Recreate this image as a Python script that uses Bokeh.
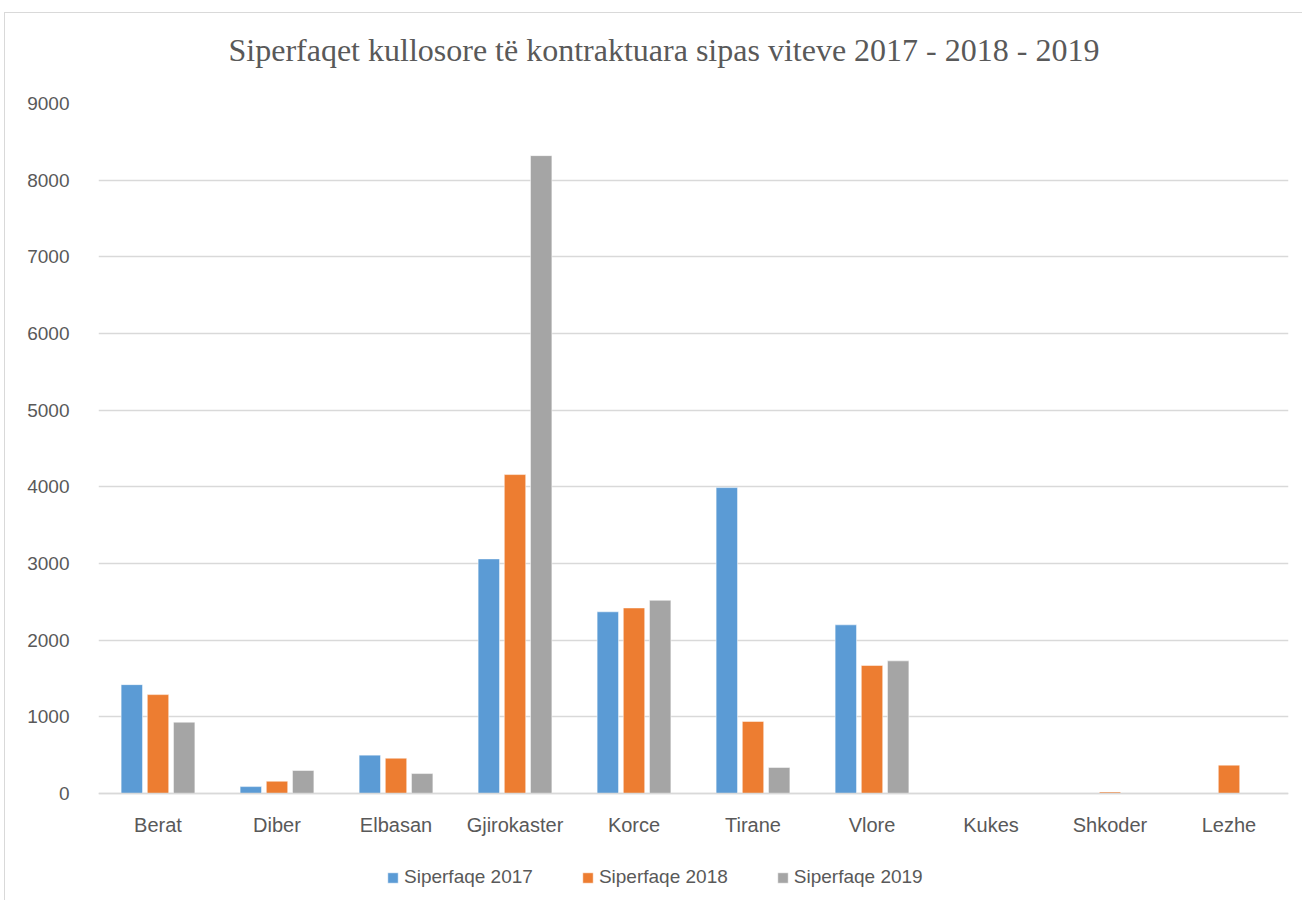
from bokeh.plotting import figure
from bokeh.models import ColumnDataSource, FactorRange, Range1d, FixedTicker, Legend, LegendItem, Title
from bokeh.transform import dodge
from bokeh.embed import file_html
from bokeh.resources import INLINE

categories = ["Berat", "Diber", "Elbasan", "Gjirokaster", "Korce", "Tirane", "Vlore", "Kukes", "Shkoder", "Lezhe"]
s2017 = [1420, 90, 500, 3060, 2370, 3990, 2200, 0, 0, 0]
s2018 = [1290, 160, 460, 4160, 2420, 940, 1670, 0, 20, 370]
s2019 = [930, 300, 260, 8320, 2520, 340, 1730, 0, 0, 0]
series_names = ["Siperfaqe 2017", "Siperfaqe 2018", "Siperfaqe 2019"]
colors = ["#5B9BD5", "#ED7D31", "#A5A5A5"]
yticks = [0, 1000, 2000, 3000, 4000, 5000, 6000, 7000, 8000, 9000]
title_text = "Siperfaqet kullosore të kontraktuara sipas viteve 2017 - 2018 - 2019"

# layout: 690 px for 0..9000, frame extended below zero to hold labels and legend
FRAME_H = 793
Y_TOP = 9000
Y_BOTTOM = Y_TOP - Y_TOP * FRAME_H / 690.0

src = ColumnDataSource(dict(cat=categories, s2017=s2017, s2018=s2018, s2019=s2019))

p = figure(x_range=FactorRange(*categories, range_padding=0), y_range=Range1d(Y_BOTTOM, Y_TOP),
           frame_width=1190, frame_height=FRAME_H, output_backend="svg", toolbar_location=None,
           min_border_left=93, min_border_right=14, min_border_top=90, min_border_bottom=4,
           styles={"margin-left": "4px", "margin-top": "12px",
                   "border-left": "1px solid #d9d9d9", "border-top": "1px solid #d9d9d9"})

p.title.text = title_text
p.title.text_font = "Liberation Serif"
p.title.text_font_size = "32px"
p.title.text_font_style = "normal"
p.title.text_color = "#595959"
p.title.align = "left"
p.title.offset = 130
p.title.standoff = 33

spacer = Title(text=" ", text_font_size="2px", standoff=15)
p.add_layout(spacer, "above")

p.outline_line_color = None
p.xgrid.grid_line_color = None
p.ygrid.grid_line_color = "#d9d9d9"
p.ygrid.grid_line_width = 1.3
p.yaxis.ticker = FixedTicker(ticks=yticks)
p.yaxis.axis_line_color = None
p.yaxis.major_tick_line_color = None
p.yaxis.minor_tick_line_color = None
p.yaxis.major_label_standoff = 23
p.yaxis.major_label_text_font = "Liberation Sans"
p.yaxis.major_label_text_font_size = "19px"
p.yaxis.major_label_text_color = "#595959"

p.xaxis.fixed_location = 0
p.xaxis.axis_line_color = "#d9d9d9"
p.xaxis.axis_line_width = 1.5
p.xaxis.major_tick_line_color = None
p.xaxis.minor_tick_line_color = None
p.xaxis.major_label_standoff = 14
p.xaxis.major_label_text_font = "Liberation Sans"
p.xaxis.major_label_text_font_size = "20px"
p.xaxis.major_label_text_color = "#595959"

items = []
for key, off, col, name in zip(["s2017", "s2018", "s2019"], [-0.22, 0.0, 0.22], colors, series_names):
    r = p.vbar(x=dodge("cat", off, range=p.x_range), top=key, width=0.18, source=src,
               fill_color=col, line_color="white", line_width=0.5)
    items.append(LegendItem(label=name, renderers=[r]))

legend = Legend(items=items, orientation="horizontal", location=(288, 8),
                border_line_color=None, background_fill_alpha=0,
                label_text_font="Liberation Sans", label_text_font_size="19px",
                label_text_color="#595959", glyph_width=13, glyph_height=13,
                spacing=48, label_standoff=5, margin=0, padding=2)
p.add_layout(legend, "center")

open("out.html", "w").write(file_html(p, INLINE))
